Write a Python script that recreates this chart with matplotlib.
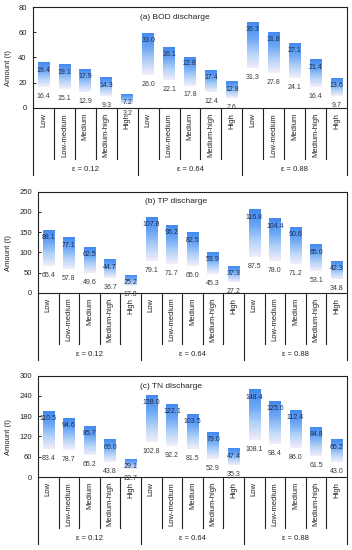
import numpy as np
import matplotlib
matplotlib.use("Agg")
import matplotlib.pyplot as plt
from matplotlib.colors import LinearSegmentedColormap
from matplotlib.transforms import blended_transform_factory

plt.rcParams["font.family"] = ["Liberation Sans", "DejaVu Sans"]

LEVELS = ["Low", "Low-medium", "Medium", "Medium-high", "High"]
EPSILONS = ["ε = 0.12", "ε = 0.64", "ε = 0.88"]

# lower part (invisible base) and upper part (shaded) of each bar, t
BOD_LOWER = [16.4, 15.1, 12.9, 9.3, 3.2,
             26.0, 22.1, 17.8, 12.4, 7.6,
             31.3, 27.8, 24.1, 16.4, 9.7]
BOD_UPPER = [19.4, 19.1, 17.9, 14.3, 7.2,
             33.0, 26.1, 22.8, 17.4, 12.8,
             36.3, 31.8, 27.1, 21.4, 13.6]

TP_LOWER = [65.4, 57.8, 49.6, 36.7, 17.8,
            79.1, 71.7, 65.0, 45.3, 27.2,
            87.5, 78.0, 71.2, 53.1, 34.8]
TP_UPPER = [88.1, 77.1, 62.5, 44.7, 25.2,
            107.8, 96.2, 82.5, 53.9, 37.3,
            116.8, 104.4, 90.6, 65.0, 42.3]

TN_LOWER = [83.4, 78.7, 65.2, 43.8, 22.7,
            102.8, 92.2, 81.5, 52.9, 35.3,
            108.1, 98.4, 86.0, 61.5, 43.0]
TN_UPPER = [110.5, 94.6, 85.7, 66.0, 29.1,
            138.0, 122.1, 103.5, 79.0, 47.4,
            148.4, 125.6, 112.4, 84.8, 65.2]

W_PX, H_PX = 352, 550
CMAP = LinearSegmentedColormap.from_list(
    "bar", ["#f4eefa", "#b3d2f8", "#6aa6f4", "#4389f0"])
LINE_C = "#222222"


def draw_panel(fig, box, lower, upper, ymax, ystep, title, title_xy):
    left, right, top, bottom = box
    ax = fig.add_axes([left / W_PX, 1 - bottom / H_PX,
                       (right - left) / W_PX, (bottom - top) / H_PX])
    n = len(lower)
    xs = np.arange(n) + 0.5
    w = 0.56
    grad = np.linspace(0, 1, 256).reshape(-1, 1)
    for x, lo, up in zip(xs, lower, upper):
        ax.imshow(grad, cmap=CMAP, origin="lower", aspect="auto",
                  extent=(x - w / 2, x + w / 2, lo, lo + up), zorder=2)
        ax.annotate(f"{up:.1f}", xy=(x, lo + up), xytext=(0, -5.2),
                    textcoords="offset points", ha="center", va="center",
                    fontsize=5, color="#1c2b4e", zorder=4)
        ax.annotate(f"{lo:.1f}", xy=(x, lo), xytext=(0, -6.8),
                    textcoords="offset points", ha="center", va="center",
                    fontsize=5, color="#3a3a3a", zorder=4)
    ax.set_xlim(0, n)
    ax.set_ylim(0, ymax)
    ax.set_xticks([])
    ax.set_yticks(np.arange(0, ymax + 1, ystep))
    ax.tick_params(axis="y", labelsize=5.5, direction="in", length=2.5,
                   pad=4.5, width=0.7, colors=LINE_C)
    for s in ax.spines.values():
        s.set_linewidth(0.8)
        s.set_color(LINE_C)

    ax.text(title_xy[0], title_xy[1], title, transform=ax.transAxes,
            ha="left", va="center", fontsize=6, color="#222222")

    # multi-level category axis
    hpx = bottom - top
    tr = blended_transform_factory(ax.transData, ax.transAxes)
    for i, x in enumerate(xs):
        ax.text(x, -5 / hpx, LEVELS[i % 5], transform=tr, rotation=90,
                ha="center", va="top", fontsize=5.5, color="#222222")
    for b in range(n + 1):
        depth = 67 if b % 5 == 0 else 51
        ax.plot([b, b], [0, -depth / hpx], transform=tr, clip_on=False,
                color=LINE_C, lw=0.8)
    for g, lab in enumerate(EPSILONS):
        ax.text(g * 5 + 2.5, -62 / hpx, lab, transform=tr,
                ha="center", va="center", fontsize=5.5, color="#222222")

    fig.text(8.5 / W_PX, 1 - ((top + bottom) / 2 + 11) / H_PX,
             "Amount (t)", rotation=90, ha="center", va="center",
             fontsize=5.5, color="#222222")
    return ax


def main():
    fig = plt.figure(figsize=(W_PX / 100, H_PX / 100), dpi=100)
    draw_panel(fig, (33, 347, 7, 108), BOD_LOWER, BOD_UPPER, 80, 20,
               "(a) BOD discharge", (0.34, 0.894))
    draw_panel(fig, (38, 347, 191.7, 292.7), TP_LOWER, TP_UPPER, 250, 50,
               "(b) TP discharge", (0.346, 0.90))
    draw_panel(fig, (38, 347, 375.7, 477), TN_LOWER, TN_UPPER, 300, 60,
               "(c) TN discharge", (0.33, 0.89))
    fig.savefig("out.png", dpi=100)
    plt.close(fig)


if __name__ == "__main__":
    main()
